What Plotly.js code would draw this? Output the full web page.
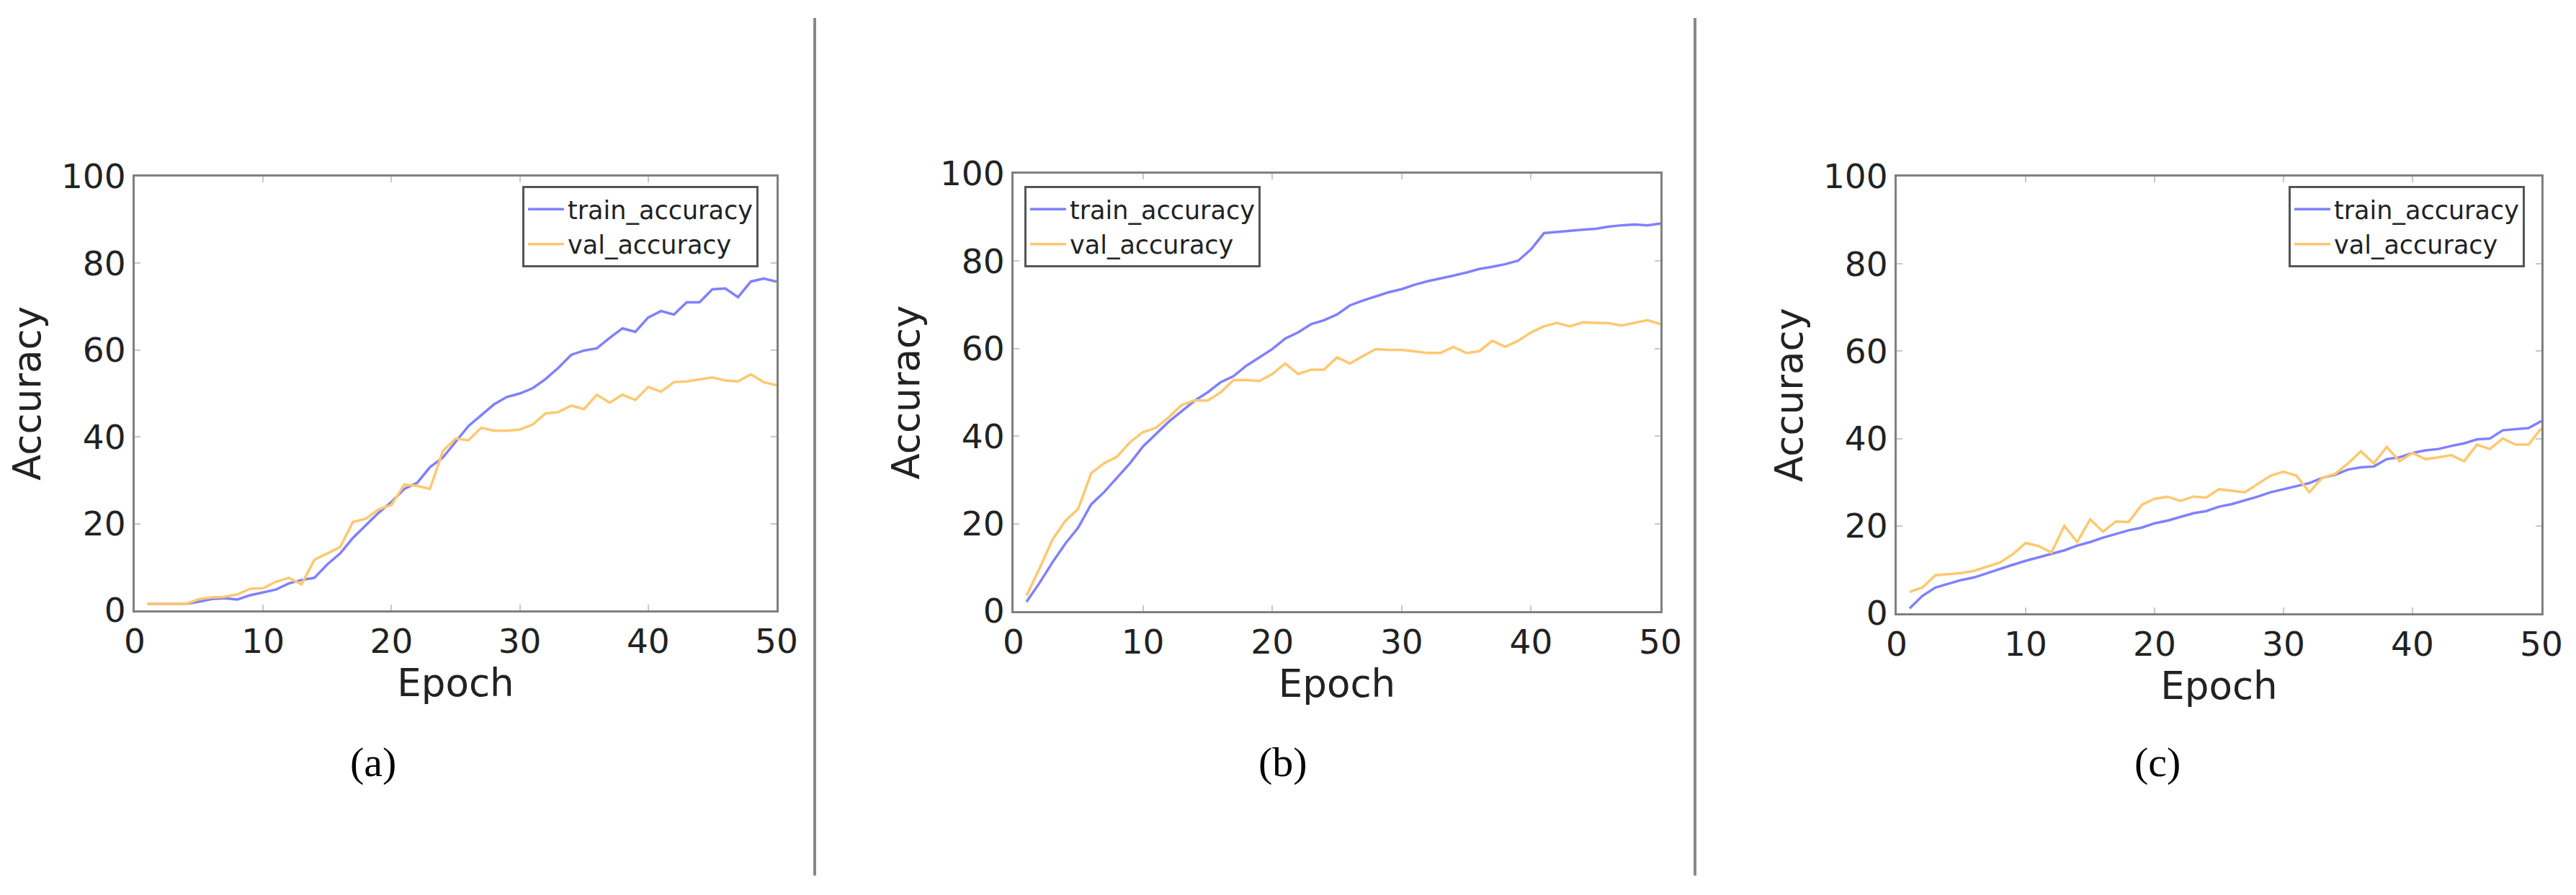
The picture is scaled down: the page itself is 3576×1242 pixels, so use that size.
<!DOCTYPE html>
<html>
<head>
<meta charset="utf-8">
<script src="https://cdn.plot.ly/plotly-3.0.1.min.js"></script>
<style>html,body{margin:0;padding:0;background:#fff;}#chart{width:3576px;height:1242px;}</style>
</head>
<body>
<div id="chart"></div>
<script>
// ---------- data ----------
const epochs = Array.from({length: 50}, (_, i) => i + 1);

const trainA = [1.5,1.5,1.5,1.5,2.0,2.6,2.8,2.5,3.5,4.1,4.8,6.2,7.0,7.5,10.6,13.1,16.7,19.6,22.5,25.0,
                28.0,29.4,33.0,35.2,38.8,42.5,45.0,47.5,49.2,50.0,51.2,53.3,55.9,58.9,59.9,60.4,62.8,65.0,64.2,67.5,
                69.0,68.2,71.0,71.0,74.0,74.2,72.2,75.8,76.5,75.8];
const valA   = [1.5,1.5,1.5,1.5,2.6,3.0,3.1,3.7,5.0,5.1,6.6,7.5,6.0,11.7,13.1,14.6,20.4,21.1,23.3,24.3,
                29.0,28.7,28.0,36.7,39.6,39.2,42.1,41.4,41.4,41.7,42.8,45.4,45.7,47.2,46.4,49.7,47.9,49.7,48.5,51.5,
                50.4,52.6,52.8,53.3,53.7,53.0,52.8,54.4,52.6,51.9];

const trainB = [2.1,6.4,11.1,15.4,19.1,24.4,27.2,30.5,33.8,37.6,40.5,43.3,45.7,48.1,50.0,52.3,53.7,56.1,58.0,59.9,
                62.3,63.7,65.6,66.5,67.8,69.9,71.0,71.9,72.9,73.6,74.6,75.4,76.0,76.7,77.4,78.2,78.7,79.3,80.1,82.7,
                86.4,86.7,86.9,87.2,87.4,87.9,88.2,88.4,88.2,88.6];
const valB   = [3.5,9.7,16.3,20.6,23.4,31.5,33.8,35.3,38.6,40.9,41.9,44.3,47.1,48.2,48.1,50.0,52.8,52.8,52.6,54.2,
                56.6,54.2,55.2,55.2,58.0,56.6,58.3,59.9,59.7,59.7,59.4,59.0,59.0,60.4,59.0,59.4,61.8,60.4,61.8,63.7,
                65.1,65.9,65.1,66.0,65.9,65.8,65.3,65.9,66.5,65.6];

const trainC = [1.1,4.0,5.9,6.8,7.6,8.2,9.2,10.1,11.1,12.0,12.8,13.5,14.4,15.5,16.3,17.3,18.2,19.0,19.6,20.6,
                21.2,22.0,22.9,23.4,24.4,25.0,25.8,26.7,27.7,28.4,29.1,29.8,31.0,31.7,32.9,33.4,33.6,35.3,35.7,36.7,
                37.3,37.6,38.3,38.9,39.8,40.0,41.9,42.1,42.4,44.0];
const valC   = [4.9,5.9,8.7,8.9,9.2,9.7,10.6,11.6,13.5,16.1,15.4,13.9,20.0,16.3,21.5,18.7,21.0,20.9,24.8,26.2,
                26.7,25.7,26.7,26.5,28.4,28.1,27.7,29.6,31.5,32.4,31.5,27.7,31.0,31.9,34.3,37.1,34.3,38.1,34.8,36.7,
                35.3,35.7,36.2,34.8,38.6,37.6,40.0,38.6,38.6,42.4];

const seriesNames = ["train_accuracy", "val_accuracy"];
const panelLabels = ["(a)", "(b)", "(c)"];
const xTitle = "Epoch";
const yTitle = "Accuracy";

// ---------- layout geometry (pixels) ----------
const W = 3576, H = 1242;
const boxes = [
  {l: 187,  r: 1078, t: 245, b: 847},
  {l: 1407, r: 2305, t: 241, b: 848},
  {l: 2633, r: 3528, t: 245, b: 851}
];
const legendPos = [
  {x: 1053, y: 258, xa: "right"},
  {x: 1422, y: 258, xa: "left"},
  {x: 3505, y: 258, xa: "right"}
];
const labelX = [518, 1781, 2995];
const labelY = 1057;
const separators = [1131, 2353];

const trainColor = "#8080ff";
const valColor = "#ffc870";
const tickFont = {family: "DejaVu Sans", size: 47, color: "#222"};
const titleFont = {family: "DejaVu Sans", size: 53, color: "#222"};

const data = [];
const layout = {
  width: W, height: H,
  margin: {l: 0, r: 0, t: 0, b: 0},
  paper_bgcolor: "#fff", plot_bgcolor: "#fff",
  showlegend: true,
  shapes: [], annotations: []
};

const panels = [[trainA, valA], [trainB, valB], [trainC, valC]];
panels.forEach((p, i) => {
  const sfx = i === 0 ? "" : String(i + 1);
  const legName = "legend" + sfx;
  const bx = boxes[i];
  data.push({
    x: epochs, y: p[0], type: "scatter", mode: "lines", name: seriesNames[0],
    xaxis: "x" + sfx, yaxis: "y" + sfx, legend: legName,
    line: {color: trainColor, width: 3.5}
  });
  data.push({
    x: epochs, y: p[1], type: "scatter", mode: "lines", name: seriesNames[1],
    xaxis: "x" + sfx, yaxis: "y" + sfx, legend: legName,
    line: {color: valColor, width: 3.5}
  });
  const common = {
    showline: true, linecolor: "#808080", linewidth: 3, mirror: "ticks",
    ticks: "inside", ticklen: 8, tickwidth: 2, tickcolor: "#c8c8c8",
    showgrid: false, zeroline: false, tickfont: tickFont, fixedrange: true
  };
  layout["xaxis" + sfx] = Object.assign({}, common, {
    domain: [bx.l / W, bx.r / W], range: [0, 50], dtick: 10, tick0: 0,
    anchor: "y" + sfx,
    title: {text: xTitle, font: titleFont, standoff: 8}
  });
  layout["yaxis" + sfx] = Object.assign({}, common, {
    domain: [1 - bx.b / H, 1 - bx.t / H], range: [0, 100], dtick: 20, tick0: 0,
    anchor: "x" + sfx,
    title: {text: yTitle, font: titleFont, standoff: 12}
  });
  const lp = legendPos[i];
  layout[legName] = {
    x: lp.x / W, y: 1 - lp.y / H, xanchor: lp.xa, yanchor: "top",
    xref: "paper", yref: "paper",
    bgcolor: "#fff", bordercolor: "#555", borderwidth: 3,
    font: {family: "DejaVu Sans", size: 35, color: "#222"},
    itemwidth: 50, tracegroupgap: 0
  };
  layout.annotations.push({
    x: labelX[i] / W, y: 1 - labelY / H, xref: "paper", yref: "paper",
    text: panelLabels[i], showarrow: false, xanchor: "center", yanchor: "middle",
    font: {family: "Liberation Serif", size: 58, color: "#000"}
  });
});

separators.forEach(sx => {
  layout.shapes.push({
    type: "line", xref: "paper", yref: "paper",
    x0: sx / W, x1: sx / W, y0: 1 - 25 / H, y1: 1 - 1215 / H,
    line: {color: "#888", width: 4}
  });
});

Plotly.newPlot("chart", data, layout, {staticPlot: true, displayModeBar: false});
</script>
</body>
</html>
